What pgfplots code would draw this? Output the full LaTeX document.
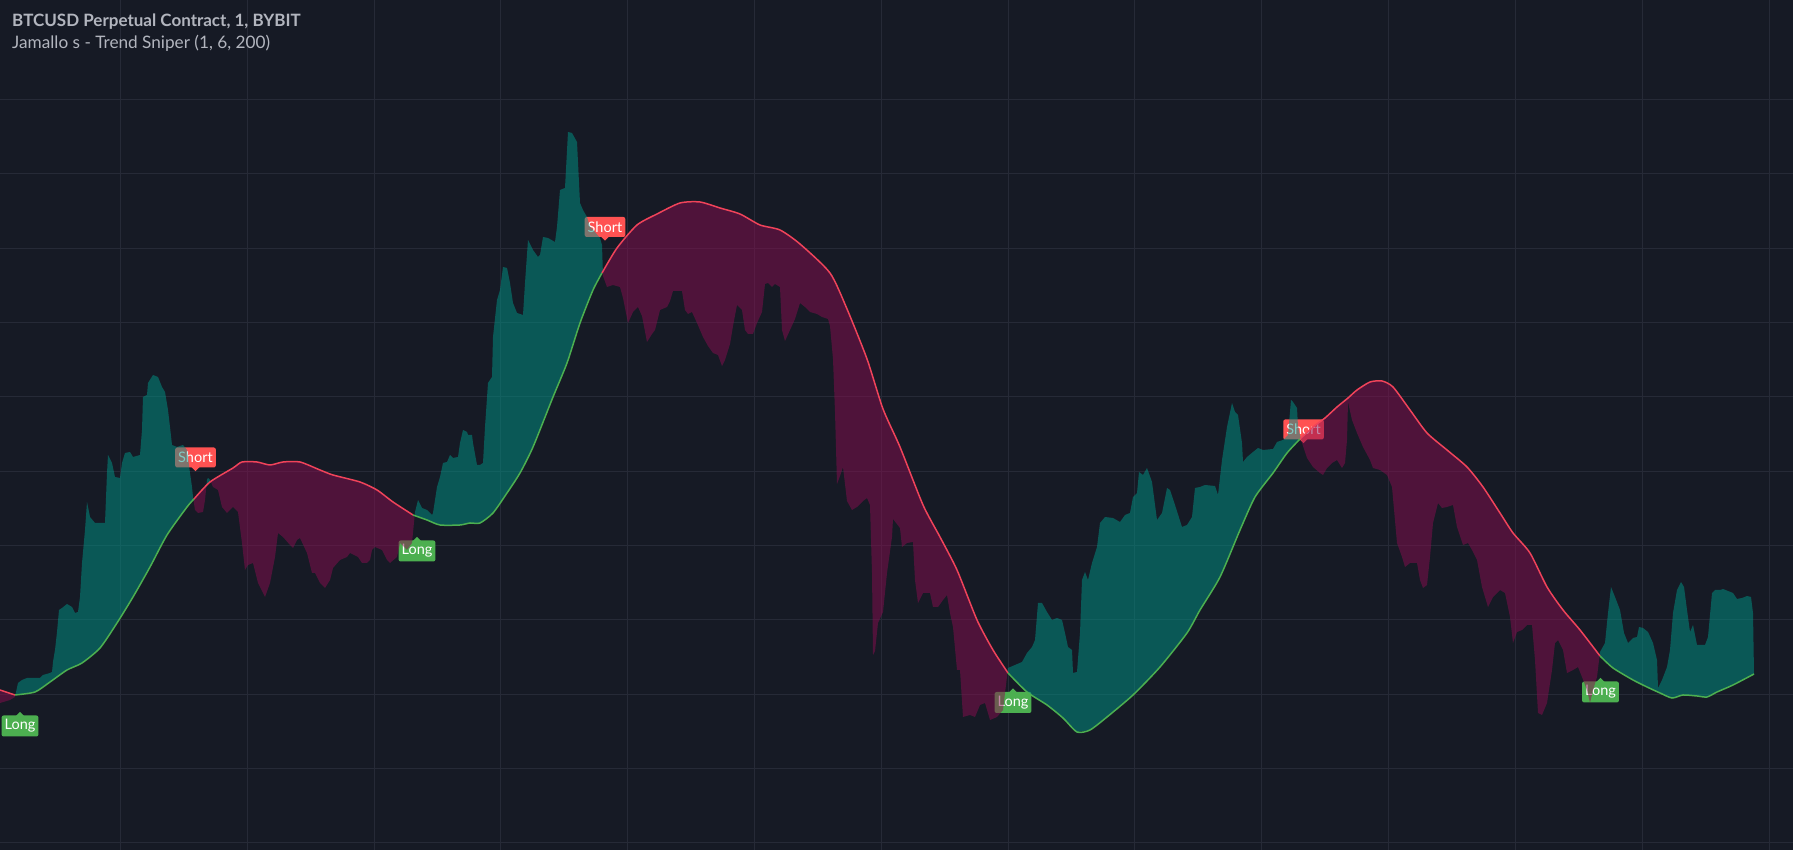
\documentclass[border=0pt]{standalone}
\usepackage{pgfplots}
\pgfplotsset{compat=1.18}
\usepackage{pgfplotstable}
\usepgfplotslibrary{fillbetween}
\usepackage{fontspec}
\setmainfont{Lato}
\definecolor{bgc}{HTML}{161A25}
\definecolor{gridc}{HTML}{262A37}
\definecolor{titlec}{HTML}{B2B5BE}
\definecolor{tealc}{HTML}{009688}
\definecolor{magc}{HTML}{880E4F}
\definecolor{redl}{HTML}{F0435A}
\definecolor{greenl}{HTML}{4CAF50}
\definecolor{shortc}{HTML}{FF5252}
\definecolor{longc}{HTML}{4CAF50}

\pgfplotstableread{
x y
0 703
10 700
15 697
18 683
22 680
27 678
40 678
43 675
50 673
52 672
53 662
55 650
57 632
59 610
62 608
67 604
72 607
75 613
78 612
80 597
82 563
85 530
87 502
90 517
95 523
105 523
107 473
108 455
112 463
115 477
120 478
122 463
125 453
130 452
133 457
140 455
142 430
143 397
147 395
148 383
153 375
158 377
162 387
165 392
168 410
170 427
172 445
177 447
183 445
187 450
190 473
192 487
193 497
195 510
198 513
203 512
205 500
207 480
208 478
210 480
213 487
218 490
222 507
227 513
233 507
238 512
242 543
245 570
248 565
253 563
258 583
265 597
270 583
275 557
278 533
283 537
290 545
293 548
297 540
300 538
307 553
312 573
315 573
320 583
325 588
330 580
333 568
340 560
347 557
350 553
358 557
362 563
367 563
370 560
372 550
375 547
382 550
387 560
390 563
397 557
400 543
407 550
412 543
415 512
418 500
422 508
427 510
432 515
433 513
437 487
440 477
443 463
447 462
450 455
453 458
458 457
460 443
463 430
467 432
468 435
472 435
473 443
477 465
480 465
483 463
485 427
488 383
492 377
493 337
497 300
500 290
503 267
507 268
510 283
513 303
517 313
523 315
525 283
528 240
533 250
538 257
540 255
543 237
548 238
555 242
557 227
560 190
565 188
568 132
572 133
577 142
580 203
583 210
587 217
590 227
595 232
600 238
602 245
603 276
607 287
613 285
620 287
623 298
628 323
633 312
638 307
642 316
647 342
652 334
655 330
660 310
667 307
670 301
673 291
682 291
685 310
688 314
692 312
697 323
703 337
708 346
713 353
718 355
722 366
725 360
730 344
733 326
737 305
742 310
745 330
748 334
753 334
757 323
762 312
765 284
768 283
772 287
775 284
780 287
782 330
785 341
790 330
795 319
800 303
805 307
810 312
817 314
822 317
828 319
830 326
833 359
835 412
837 484
840 476
843 467
847 501
852 510
857 507
863 501
867 498
870 505
872 573
873 655
875 651
878 623
883 612
887 573
892 537
893 519
900 528
902 547
907 543
913 542
915 580
918 603
923 593
930 593
933 607
938 607
943 600
947 595
950 613
953 627
957 670
960 670
963 717
970 715
975 717
980 705
985 703
990 720
997 717
1003 710
1008 668
1015 665
1022 662
1027 653
1032 647
1035 640
1038 603
1042 603
1047 612
1052 620
1057 618
1062 620
1065 633
1068 647
1072 650
1073 673
1077 672
1080 633
1082 580
1085 572
1088 580
1092 563
1097 547
1100 523
1105 517
1113 518
1120 522
1125 515
1130 513
1133 497
1137 493
1139 472
1143 475
1147 468
1152 482
1157 520
1162 513
1167 488
1170 490
1175 505
1182 527
1187 525
1192 517
1195 488
1200 487
1205 485
1215 486
1218 495
1222 460
1227 427
1232 403
1235 412
1238 415
1242 443
1243 462
1247 457
1253 452
1258 448
1263 450
1273 449
1277 442
1283 440
1288 435
1291 400
1293 402
1297 408
1298 427
1302 443
1307 458
1313 467
1320 473
1323 475
1327 468
1332 463
1337 460
1342 468
1345 463
1347 440
1348 402
1352 420
1357 433
1363 447
1370 460
1373 468
1380 470
1387 475
1392 487
1397 543
1402 557
1405 567
1410 563
1417 563
1420 580
1423 588
1427 585
1430 557
1433 523
1438 503
1442 508
1447 507
1453 505
1457 527
1463 545
1468 543
1472 550
1477 560
1482 587
1488 607
1493 597
1500 590
1505 593
1510 617
1513 643
1517 632
1522 630
1527 625
1532 625
1535 660
1538 713
1542 715
1547 703
1552 670
1555 643
1558 640
1563 650
1567 673
1573 670
1578 667
1582 677
1587 690
1590 703
1593 690
1597 677
1600 652
1605 643
1608 613
1611 587
1615 597
1620 610
1624 633
1628 643
1633 638
1637 637
1639 627
1643 628
1648 632
1653 643
1657 660
1658 688
1662 680
1667 667
1670 650
1673 613
1677 590
1681 582
1684 587
1687 610
1690 632
1693 625
1697 645
1705 645
1708 637
1712 593
1715 590
1720 590
1723 589
1728 591
1733 593
1737 599
1742 598
1747 596
1751 597
1753 613
1754 674
}\pricedata

\pgfplotstableread{
x y
0 690
15 695
35 692
50 682
67 670
82 663
100 648
117 623
133 597
150 567
167 535
187 507
194 499
210 482
233 468
242 462
257 462
270 465
283 462
300 462
320 470
333 475
360 482
377 490
393 502
413 515
427 520
440 525
460 525
470 523
480 523
493 513
507 493
520 473
533 447
553 397
567 363
580 323
593 290
602 273
617 248
637 225
657 214
680 203
700 202
720 208
740 214
760 225
780 230
800 244
830 273
847 309
867 359
883 409
900 447
923 505
940 537
957 570
977 620
993 650
1008 673
1027 692
1047 705
1063 718
1077 732
1090 730
1107 717
1133 695
1160 667
1187 633
1200 610
1220 577
1240 530
1255 497
1273 473
1287 453
1300 439
1313 427
1325 418
1337 407
1348 398
1357 390
1370 382
1382 381
1393 387
1410 410
1427 433
1447 450
1467 467
1483 487
1500 513
1513 533
1530 553
1547 587
1563 610
1580 630
1600 656
1613 668
1633 680
1647 687
1660 693
1672 698
1683 695
1697 696
1707 697
1717 692
1733 685
1754 674
}\trenddata

\begin{document}
\begin{tikzpicture}
\begin{axis}[
  set layers,
  width=1793pt, height=850pt, scale only axis,
  xmin=0, xmax=1793, ymin=0, ymax=850, y dir=reverse,
  axis background/.style={fill=bgc},
  axis line style={draw=none},
  major tick length=0pt,
  xtick={-7,120,247,374,500,627,754,881,1008,1134,1261,1388,1515,1642,1769},
  ytick={100,174,249,323,397,472,546,620,695,769,843},
  xticklabels={}, yticklabels={},
  grid=major,
  grid style={draw=gridc, line width=1pt},
  fill between/on layer=main,
  clip=true,
]
\addplot[name path=price, draw=none, forget plot] table[x=x,y=y] {\pricedata};
\addplot[name path=trend, draw=none, forget plot] table[x=x,y=y] {\trenddata};

% signal labels (drawn beneath the semi-transparent fills)
\node[fill=shortc, rounded corners=2pt, text=white, font=\fontsize{14.5}{14.5}\selectfont, inner xsep=3pt, inner ysep=0pt, minimum height=20pt] (s1) at (axis cs:195.5,457.5) {Short};
\fill[shortc] (s1.south) ++(-4pt,0.5pt) -- ++(8pt,0) -- ++(-4pt,-4pt) -- cycle;
\node[fill=shortc, rounded corners=2pt, text=white, font=\fontsize{14.5}{14.5}\selectfont, inner xsep=3pt, inner ysep=0pt, minimum height=20pt] (s2) at (axis cs:605,227) {Short};
\fill[shortc] (s2.south) ++(-4pt,0.5pt) -- ++(8pt,0) -- ++(-4pt,-4pt) -- cycle;
\node[fill=shortc, rounded corners=2pt, text=white, font=\fontsize{14.5}{14.5}\selectfont, inner xsep=3pt, inner ysep=0pt, minimum height=20pt] (s3) at (axis cs:1303.5,429.5) {Short};
\fill[shortc] (s3.south) ++(-4pt,0.5pt) -- ++(8pt,0) -- ++(-4pt,-4pt) -- cycle;

\node[fill=longc, rounded corners=2pt, text=white, font=\fontsize{14.5}{14.5}\selectfont, inner xsep=3pt, inner ysep=0pt, minimum height=21pt] (l1) at (axis cs:20,726) {Long};
\fill[longc] (l1.north) ++(-4pt,-0.5pt) -- ++(8pt,0) -- ++(-4pt,4pt) -- cycle;
\node[fill=longc, rounded corners=2pt, text=white, font=\fontsize{14.5}{14.5}\selectfont, inner xsep=3pt, inner ysep=0pt, minimum height=21pt] (l2) at (axis cs:417,551) {Long};
\fill[longc] (l2.north) ++(-4pt,-0.5pt) -- ++(8pt,0) -- ++(-4pt,4pt) -- cycle;
\node[fill=longc, rounded corners=2pt, text=white, font=\fontsize{14.5}{14.5}\selectfont, inner xsep=3pt, inner ysep=0pt, minimum height=21pt] (l3) at (axis cs:1013,702.5) {Long};
\fill[longc] (l3.north) ++(-4pt,-0.5pt) -- ++(8pt,0) -- ++(-4pt,4pt) -- cycle;
\node[fill=longc, rounded corners=2pt, text=white, font=\fontsize{14.5}{14.5}\selectfont, inner xsep=3pt, inner ysep=0pt, minimum height=21pt] (l4) at (axis cs:1600.5,692) {Long};
\fill[longc] (l4.north) ++(-4pt,-0.5pt) -- ++(8pt,0) -- ++(-4pt,4pt) -- cycle;

% fill between price and trend, split at crossings
\addplot[forget plot] fill between[of=price and trend, split,
  every even segment/.style={fill=magc, fill opacity=0.5},
  every odd segment/.style={fill=tealc, fill opacity=0.5}];

% trend line, colour by regime
\pgfplotsset{trendline/.style={line width=1.5pt, smooth, tension=0.4}}
\addplot[redl, trendline, restrict x to domain=0:15] table[x=x,y=y] {\trenddata};
\addplot[greenl, trendline, restrict x to domain=15:194] table[x=x,y=y] {\trenddata};
\addplot[redl, trendline, restrict x to domain=194:413] table[x=x,y=y] {\trenddata};
\addplot[greenl, trendline, restrict x to domain=413:602] table[x=x,y=y] {\trenddata};
\addplot[redl, trendline, restrict x to domain=602:1008] table[x=x,y=y] {\trenddata};
\addplot[greenl, trendline, restrict x to domain=1008:1300] table[x=x,y=y] {\trenddata};
\addplot[redl, trendline, restrict x to domain=1300:1600] table[x=x,y=y] {\trenddata};
\addplot[greenl, trendline, restrict x to domain=1600:1754] table[x=x,y=y] {\trenddata};

\node[anchor=base west, text=titlec, font=\bfseries\fontsize{17}{17}\selectfont, inner sep=0pt] at (axis cs:12,27) {BTCUSD Perpetual Contract, 1, BYBIT};
\node[anchor=base west, text=titlec, font=\fontsize{17.2}{17.2}\selectfont, inner sep=0pt] at (axis cs:12,49) {Jamallo s - Trend Sniper (1, 6, 200)};
\end{axis}
\pgfresetboundingbox
\path (current axis.south west) rectangle (current axis.north east);
\end{tikzpicture}
\end{document}
